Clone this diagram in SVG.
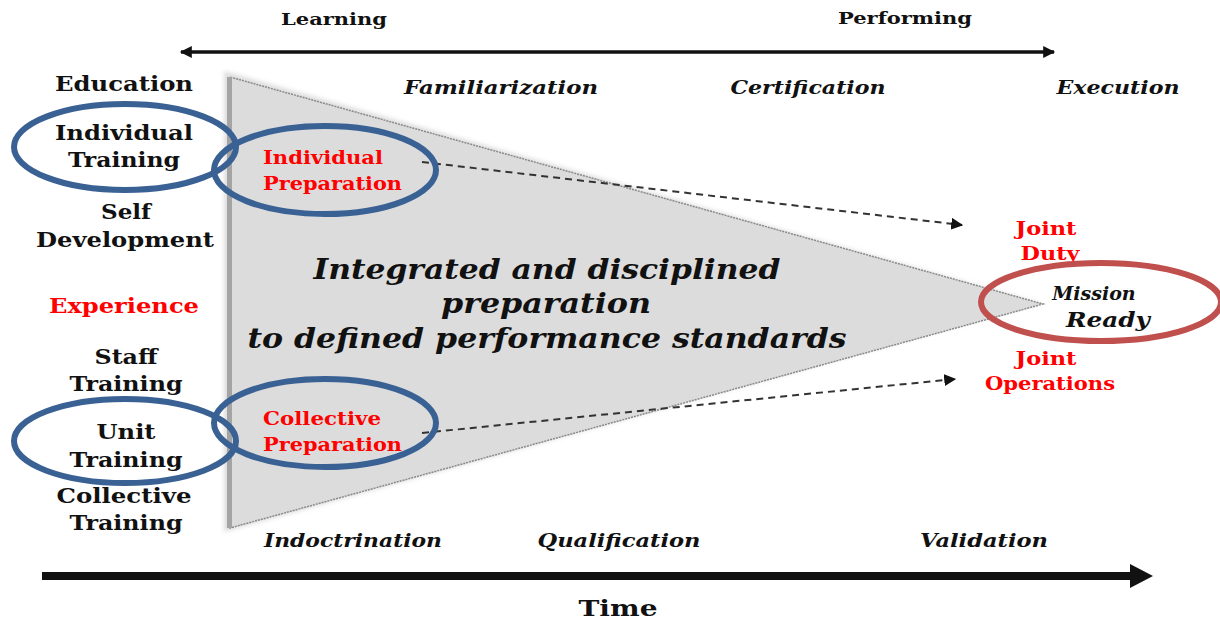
<svg xmlns="http://www.w3.org/2000/svg" width="1220" height="621" viewBox="0 0 1220 621">
<defs>
<style>
text{font-family:"DejaVu Serif","Liberation Serif",serif;font-weight:bold;text-anchor:middle}
.b{fill:#111;font-size:20px}
.s{fill:#111;font-size:17px}
.i{fill:#111;font-size:18px;font-style:italic}
.r{fill:#ff0000;font-size:18px}
.rl{fill:#ff0000;font-size:18px;text-anchor:start}
.m{fill:#111;font-size:27px;font-style:italic}
.blue{fill:none;stroke:#3a6193;stroke-width:6}
.red{fill:none;stroke:#c0504d;stroke-width:6}
.dash{stroke:#333;stroke-width:2;stroke-dasharray:7,5;fill:none}
</style>
<marker id="ah" viewBox="0 0 10 10" refX="9" refY="5" markerWidth="12" markerHeight="12" markerUnits="userSpaceOnUse" orient="auto"><path d="M0,0 L10,5 L0,10 Z" fill="#111"/></marker>
<marker id="dh" viewBox="0 0 10 10" refX="9" refY="5" markerWidth="14" markerHeight="12" markerUnits="userSpaceOnUse" orient="auto-start-reverse"><path d="M0,0 L10,5 L0,10 Z" fill="#111"/></marker>
<filter id="sh" x="-5%" y="-5%" width="110%" height="110%"><feGaussianBlur stdDeviation="2"/></filter>
</defs>
<rect width="1220" height="621" fill="#ffffff"/>

<g id="triangle">
<polygon points="224,71 224,532 1040,303" fill="#c8c8c8" filter="url(#sh)" opacity="0.6"/>
<polygon points="230,77 230,528 1043,304" fill="#dcdcdc" stroke="#8a8a8a" stroke-width="1.5" stroke-dasharray="2,1"/>
<rect x="227" y="77" width="5" height="451" fill="#a4a4a4"/>
</g>

<g id="connectors">
<line x1="181" y1="52" x2="1054" y2="52" stroke="#111" stroke-width="3.5" marker-start="url(#dh)" marker-end="url(#dh)"/>
<line x1="42" y1="576" x2="1132" y2="576" stroke="#111" stroke-width="8"/>
<polygon points="1130,564 1153,576 1130,588" fill="#111"/>
<line class="dash" x1="422" y1="162" x2="962" y2="225" marker-end="url(#ah)"/>
<line class="dash" x1="422" y1="433" x2="955" y2="379" marker-end="url(#ah)"/>
</g>

<g id="labels-top">
<text class="s" x="334" y="25" textLength="106" lengthAdjust="spacingAndGlyphs">Learning</text>
<text class="s" x="905" y="24" textLength="134" lengthAdjust="spacingAndGlyphs">Performing</text>
<text class="i" x="501" y="94" textLength="194" lengthAdjust="spacingAndGlyphs">Familiarization</text>
<text class="i" x="808" y="94" textLength="155" lengthAdjust="spacingAndGlyphs">Certification</text>
<text class="i" x="1118" y="94" textLength="123" lengthAdjust="spacingAndGlyphs">Execution</text>
</g>

<g id="education">
<text class="b" x="124" y="91" textLength="138" lengthAdjust="spacingAndGlyphs">Education</text>
</g>

<g id="individual-training">
<ellipse class="blue" cx="125" cy="147" rx="111" ry="43"/>
<text class="b" x="124" y="140" textLength="138" lengthAdjust="spacingAndGlyphs">Individual</text>
<text class="b" x="124" y="167" textLength="112" lengthAdjust="spacingAndGlyphs">Training</text>
</g>

<g id="self-development">
<text class="b" x="126" y="219" textLength="50" lengthAdjust="spacingAndGlyphs">Self</text>
<text class="b" x="125" y="247" textLength="178" lengthAdjust="spacingAndGlyphs">Development</text>
</g>

<g id="experience">
<text class="b" x="124" y="313" style="fill:#ff0000" textLength="150" lengthAdjust="spacingAndGlyphs">Experience</text>
</g>

<g id="staff-training">
<text class="b" x="126" y="364" textLength="63" lengthAdjust="spacingAndGlyphs">Staff</text>
<text class="b" x="126" y="391" textLength="113" lengthAdjust="spacingAndGlyphs">Training</text>
</g>

<g id="unit-training">
<ellipse class="blue" cx="125" cy="441" rx="111" ry="42"/>
<text class="b" x="126" y="439" textLength="59" lengthAdjust="spacingAndGlyphs">Unit</text>
<text class="b" x="126" y="467" textLength="113" lengthAdjust="spacingAndGlyphs">Training</text>
</g>

<g id="collective-training">
<text class="b" x="124" y="503" textLength="135" lengthAdjust="spacingAndGlyphs">Collective</text>
<text class="b" x="126" y="530" textLength="113" lengthAdjust="spacingAndGlyphs">Training</text>
</g>

<g id="individual-preparation">
<ellipse class="blue" cx="325" cy="170" rx="111" ry="44"/>
<text class="rl" x="263" y="164" textLength="120" lengthAdjust="spacingAndGlyphs">Individual</text>
<text class="rl" x="263" y="190" textLength="139" lengthAdjust="spacingAndGlyphs">Preparation</text>
</g>

<g id="collective-preparation">
<ellipse class="blue" cx="325" cy="423" rx="111" ry="44"/>
<text class="rl" x="263" y="425" textLength="118" lengthAdjust="spacingAndGlyphs">Collective</text>
<text class="rl" x="263" y="451" textLength="139" lengthAdjust="spacingAndGlyphs">Preparation</text>
</g>

<g id="main-text">
<text class="m" x="547" y="279" textLength="467" lengthAdjust="spacingAndGlyphs">Integrated and disciplined</text>
<text class="m" x="546" y="313" textLength="210" lengthAdjust="spacingAndGlyphs">preparation</text>
<text class="m" x="547" y="348" textLength="599" lengthAdjust="spacingAndGlyphs">to defined performance standards</text>
</g>

<g id="joint-duty">
<text class="r" x="1046" y="235" textLength="61" lengthAdjust="spacingAndGlyphs">Joint</text>
<text class="r" x="1050" y="260" textLength="59" lengthAdjust="spacingAndGlyphs">Duty</text>
</g>

<g id="mission-ready">
<ellipse class="red" cx="1101" cy="302" rx="120" ry="39"/>
<text class="i" x="1094" y="300" style="font-size:19px">Mission</text>
<text class="i" x="1108" y="327" style="font-size:20px" textLength="84" lengthAdjust="spacingAndGlyphs">Ready</text>
</g>

<g id="joint-operations">
<text class="r" x="1046" y="365" textLength="61" lengthAdjust="spacingAndGlyphs">Joint</text>
<text class="r" x="1050" y="390" textLength="130" lengthAdjust="spacingAndGlyphs">Operations</text>
</g>

<g id="labels-bottom">
<text class="i" x="353" y="547" textLength="178" lengthAdjust="spacingAndGlyphs">Indoctrination</text>
<text class="i" x="619" y="547" textLength="163" lengthAdjust="spacingAndGlyphs">Qualification</text>
<text class="i" x="984" y="547" textLength="128" lengthAdjust="spacingAndGlyphs">Validation</text>
<text class="b" x="618" y="616" style="font-size:22px" textLength="79" lengthAdjust="spacingAndGlyphs">Time</text>
</g>
</svg>
